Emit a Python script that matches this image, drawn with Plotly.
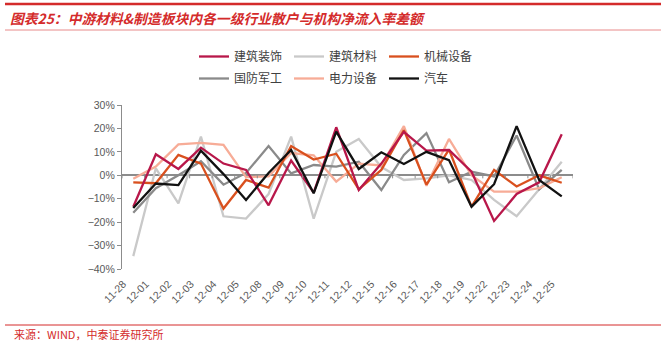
import plotly.graph_objects as go

# Trading days on the category axis
dates = ["11-28", "12-01", "12-02", "12-03", "12-04", "12-05", "12-08", "12-09",
         "12-10", "12-11", "12-12", "12-15", "12-16", "12-17", "12-18", "12-19",
         "12-22", "12-23", "12-24", "12-25"]

# Net inflow rate difference (retail minus institutional), in %
jianzhu_zhuangshi = [-13.4, 9.0, 2.7, 11.8, 5.0, 2.3, -12.8, 6.3, -7.4, 20.5,
                     -6.3, 5.0, 18.5, 10.5, 10.8, 1.5, -19.5, -8.0, -3.0, 17.5]
jianzhu_cailiao = [-34.5, 3.0, -12.0, 16.5, -17.5, -18.5, -8.0, 16.5, -18.5, 10.0,
                   15.5, 3.5, -2.0, -1.3, 0.0, -2.0, -10.5, -17.5, -6.0, 5.8]
jixie_shebei = [-3.0, -3.4, 8.7, 5.0, -14.2, -2.0, -5.3, 12.5, 6.7, 9.2,
                -6.0, 2.3, 19.3, -4.0, 11.0, -13.4, 2.3, -4.8, 0.0, -3.2]
guofang_jungong = [-16.0, -5.5, 0.0, 6.0, -4.0, 1.0, 12.5, 0.8, 4.4, 3.7,
                   5.8, -6.3, 8.7, 18.0, -3.0, 1.5, -0.5, 17.0, -6.0, 2.3]
dianli_shebei = [-1.5, 3.7, 13.2, 13.8, 13.0, -0.8, -0.5, 9.5, 8.5, -2.7,
                 5.0, 4.2, 21.0, -4.5, 15.5, 0.0, -7.0, -7.0, -5.5, -0.8]
qiche = [-14.0, -3.5, -4.2, 10.5, 0.5, -10.5, 1.0, 10.8, -7.7, 18.6,
         2.7, 9.8, 4.8, 10.0, 6.5, -13.4, -3.8, 21.0, -2.0, -9.0]

y_ticks = [30, 20, 10, 0, -10, -20, -30, -40]
y_ticktext = [f"{v}%".replace("-", "\u2212") for v in y_ticks]

series = [
    ("建筑装饰", jianzhu_zhuangshi, "#B8174A", "legend"),
    ("建筑材料", jianzhu_cailiao, "#C9C9C9", "legend"),
    ("机械设备", jixie_shebei, "#D9501E", "legend"),
    ("国防军工", guofang_jungong, "#8A8A8A", "legend2"),
    ("电力设备", dianli_shebei, "#F7AC97", "legend2"),
    ("汽车", qiche, "#111111", "legend2"),
]

W, H = 665, 342
ML, MR, MT, MB = 122, 92, 105, 73
PW, PH = W - ML - MR, H - MT - MB


def px(x):
    return (x - ML) / PW


def py(y):
    return (H - MB - y) / PH


fig = go.Figure()
# draw order: lighter lines underneath, black on top
order = [1, 3, 4, 2, 0, 5]
for i in order:
    name, vals, color, leg = series[i]
    fig.add_trace(go.Scatter(
        x=dates, y=vals, name=name, mode="lines",
        line=dict(color=color, width=2.3),
        legend=leg, legendrank=i,
    ))

cat_font = dict(family="Liberation Sans, Arial, sans-serif", size=10.5, color="#595959")
legend_font = dict(family="Noto Sans CJK SC", size=12, color="#404040")

legend_common = dict(orientation="h", xanchor="left", yanchor="top",
                     font=legend_font, entrywidth=50, entrywidthmode="pixels",
                     itemwidth=30, traceorder="normal", bgcolor="rgba(0,0,0,0)")

fig.update_layout(
    width=W, height=H,
    margin=dict(l=ML, r=MR, t=MT, b=MB),
    paper_bgcolor="white", plot_bgcolor="white",
    showlegend=True,
    legend=dict(x=px(194), y=py(42), **legend_common),
    legend2=dict(x=px(194), y=py(64), **legend_common),
    xaxis=dict(
        type="category", range=[-0.5, len(dates) - 0.5],
        tickmode="array", tickvals=dates, ticktext=dates,
        tickangle=-45, tickfont=cat_font, showgrid=False, zeroline=False,
        showline=False, ticks="", ticklabelshift=-10, ticklabelstandoff=6,
    ),
    yaxis=dict(
        range=[-40, 30], tickmode="array", tickvals=y_ticks, ticktext=y_ticktext,
        tickfont=cat_font, showgrid=False, zeroline=True,
        zerolinecolor="#8C8C8C", zerolinewidth=1.5,
        showline=True, linecolor="#8C8C8C", linewidth=1.2,
        ticks="outside", ticklen=4, tickcolor="#8C8C8C",
    ),
)

# small category separators on the zero line
for k in range(len(dates) + 1):
    fig.add_shape(type="line", xref="x", yref="y", x0=k - 0.5, x1=k - 0.5,
                  y0=0, y1=-1.3, line=dict(color="#8C8C8C", width=1))

# header rule, title and separator
fig.add_shape(type="line", xref="paper", yref="paper", x0=px(5), x1=px(661),
              y0=py(4), y1=py(4), line=dict(color="#D42B2B", width=2.5))
fig.add_annotation(text="<b><i>图表25：中游材料&amp;制造板块内各一级行业散户与机构净流入率差额</i></b>",
                   xref="paper", yref="paper", x=px(8), y=py(18),
                   xanchor="left", yanchor="middle", showarrow=False,
                   font=dict(family="Noto Sans CJK SC", size=13.8, color="#D42B2B"))
fig.add_shape(type="line", xref="paper", yref="paper", x0=px(5), x1=px(661),
              y0=py(30), y1=py(30), line=dict(color="#E88A8A", width=1))

# footer rule and source note
fig.add_shape(type="line", xref="paper", yref="paper", x0=px(5), x1=px(661),
              y0=py(325), y1=py(325), line=dict(color="#D42B2B", width=1))
fig.add_annotation(text="来源：WIND，中泰证券研究所",
                   xref="paper", yref="paper", x=px(12), y=py(334),
                   xanchor="left", yanchor="middle", showarrow=False,
                   font=dict(family="Noto Sans CJK SC", size=11, color="#D42B2B"))

fig.write_html("out.html")
